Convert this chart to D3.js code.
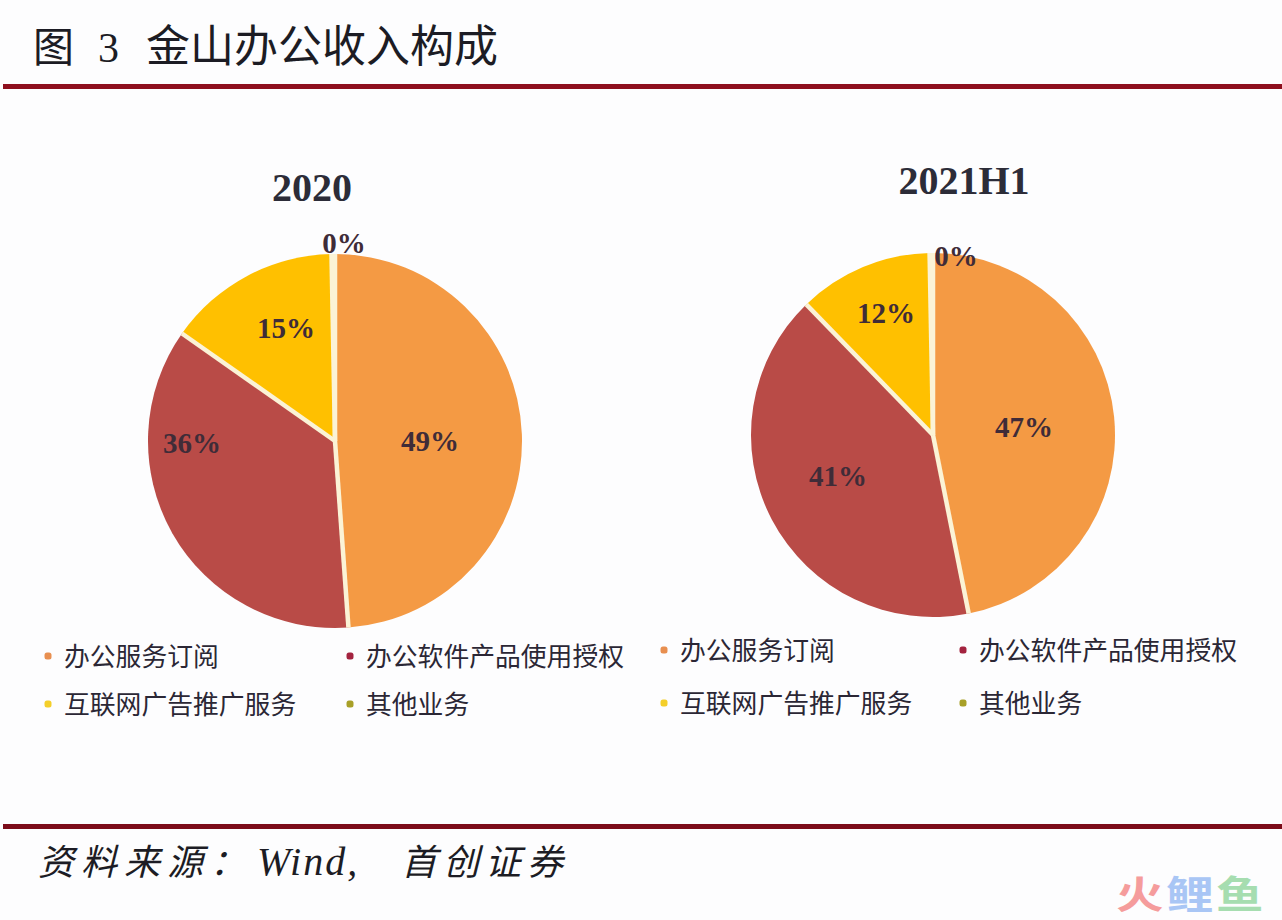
<!DOCTYPE html>
<html>
<head>
<meta charset="utf-8">
<script src="https://cdn.jsdelivr.net/npm/d3@7"></script>
<style>
  html, body { margin: 0; padding: 0; background: #fdfdfe; }
  svg { display: block; }
</style>
</head>
<body>
<svg id="chart" width="1282" height="920"></svg>
<script>
// Chart data
const categories = ["办公服务订阅", "办公软件产品使用授权", "互联网广告推广服务", "其他业务"];
const periods = ["2020", "2021H1"];
const values2020 = [49, 36, 15, 0.3];
const values2021 = [47, 41, 12, 0.3];
const labels2020 = ["49%", "36%", "15%", "0%"];
const labels2021 = ["47%", "41%", "12%", "0%"];
const colors = ["#F49A44", "#B94B47", "#FFC000", "#F3DC8E"];
const legendColors = ["#E88F50", "#A3233F", "#F4CF2A", "#A8A028"];

const serif = "'Liberation Serif', 'Noto Sans CJK SC', serif";
const cjk = "'Noto Sans CJK SC', sans-serif";

const svg = d3.select("#chart");

// Header and footer rules
svg.append("rect").attr("x", 3).attr("y", 84).attr("width", 1279).attr("height", 5).attr("fill", "#8E0F1E");
svg.append("rect").attr("x", 3).attr("y", 824).attr("width", 1279).attr("height", 5).attr("fill", "#7C0C1A");

// Title
svg.append("text").attr("x", 33).attr("y", 62).attr("font-family", cjk).attr("font-size", 41).attr("fill", "#1c1c24").text("图");
svg.append("text").attr("x", 98).attr("y", 62).attr("font-family", serif).attr("font-size", 42).attr("fill", "#1c1c24").text("3");
svg.append("text").attr("x", 146).attr("y", 62).attr("font-family", cjk).attr("font-size", 44).attr("fill", "#1c1c24").text("金山办公收入构成");

// One pie with its title and legend
function drawPie(opts) {
  const g = svg.append("g").attr("transform", `translate(${opts.cx},${opts.cy})`);

  const pie = d3.pie().sort(null).value((d) => d);
  const arc = d3.arc().innerRadius(0).outerRadius(opts.r);
  const slices = pie(opts.values);

  g.selectAll("path")
    .data(slices)
    .enter()
    .append("path")
    .attr("d", arc)
    .attr("fill", (d, i) => colors[i]);

  // pale gaps only between slices, the outer edge stays clean
  g.selectAll("line")
    .data(slices)
    .enter()
    .append("line")
    .attr("x1", 0)
    .attr("y1", 0)
    .attr("x2", (d) => d3.pointRadial(d.startAngle, opts.r)[0])
    .attr("y2", (d) => d3.pointRadial(d.startAngle, opts.r)[1])
    .attr("stroke", "#FBF3D6")
    .attr("stroke-width", 4.5);

  // labels were moved by hand in the original, so they sit at set offsets
  g.selectAll("text.pct")
    .data(opts.labels)
    .enter()
    .append("text")
    .attr("class", "pct")
    .attr("x", (d, i) => opts.labelOffsets[i][0])
    .attr("y", (d, i) => opts.labelOffsets[i][1])
    .attr("text-anchor", "middle")
    .attr("dominant-baseline", "central")
    .attr("font-family", serif)
    .attr("font-weight", "bold")
    .attr("font-size", 29)
    .attr("fill", "#3f2c38")
    .text((d) => d);

  svg.append("text")
    .attr("x", opts.titleX)
    .attr("y", opts.titleY)
    .attr("text-anchor", "middle")
    .attr("font-family", serif)
    .attr("font-weight", "bold")
    .attr("font-size", 40)
    .attr("fill", "#2c2c38")
    .text(opts.title);

  const legend = svg.append("g")
    .selectAll("g")
    .data(categories)
    .enter()
    .append("g")
    .attr("transform", (d, i) => `translate(${opts.legendX[i % 2]},${opts.legendY[i < 2 ? 0 : 1]})`);

  legend.append("rect")
    .attr("x", -3.5).attr("y", -3.5)
    .attr("width", 7).attr("height", 7)
    .attr("rx", 2.5)
    .attr("fill", (d, i) => legendColors[i]);

  legend.append("text")
    .attr("x", 16)
    .attr("y", -2)
    .attr("dominant-baseline", "central")
    .attr("font-family", cjk)
    .attr("font-size", 25.8)
    .attr("fill", "#2b2735")
    .text((d) => d);
}

drawPie({
  cx: 335, cy: 441, r: 187,
  values: values2020,
  labels: labels2020,
  labelOffsets: [[95, 0], [-143, 2], [-49, -113], [9, -198]],
  title: periods[0], titleX: 312, titleY: 201,
  legendX: [48, 350], legendY: [656, 704]
});

drawPie({
  cx: 933, cy: 435, r: 182,
  values: values2021,
  labels: labels2021,
  labelOffsets: [[91, -8], [-95, 41], [-47, -122], [23, -179]],
  title: periods[1], titleX: 964, titleY: 194,
  legendX: [664, 963], legendY: [650, 703]
});

// Source line
svg.append("text")
  .attr("x", 38).attr("y", 875)
  .attr("font-family", cjk)
  .attr("font-style", "italic")
  .attr("font-size", 36)
  .attr("letter-spacing", 7)
  .attr("fill", "#1c1c24")
  .text("资料来源：");
svg.append("text")
  .attr("x", 257).attr("y", 875)
  .attr("font-family", serif)
  .attr("font-style", "italic")
  .attr("font-size", 40)
  .attr("letter-spacing", 2)
  .attr("fill", "#1c1c24")
  .text("Wind,");
svg.append("text")
  .attr("x", 401).attr("y", 875)
  .attr("font-family", cjk)
  .attr("font-style", "italic")
  .attr("font-size", 36)
  .attr("letter-spacing", 6)
  .attr("fill", "#1c1c24")
  .text("首创证券");

// Watermark
const markChars = ["火", "鲤", "鱼"];
const markColors = ["#F59C9C", "#A9C6F5", "#A6DDB0"];
svg.append("g")
  .selectAll("text")
  .data(markChars)
  .enter()
  .append("text")
  .attr("transform", (d, i) => `translate(${1116 + i * 50},908) scale(1.25,1)`)
  .attr("font-family", cjk)
  .attr("font-weight", "bold")
  .attr("font-size", 38)
  .attr("fill", (d, i) => markColors[i])
  .text((d) => d);
</script>
</body>
</html>
